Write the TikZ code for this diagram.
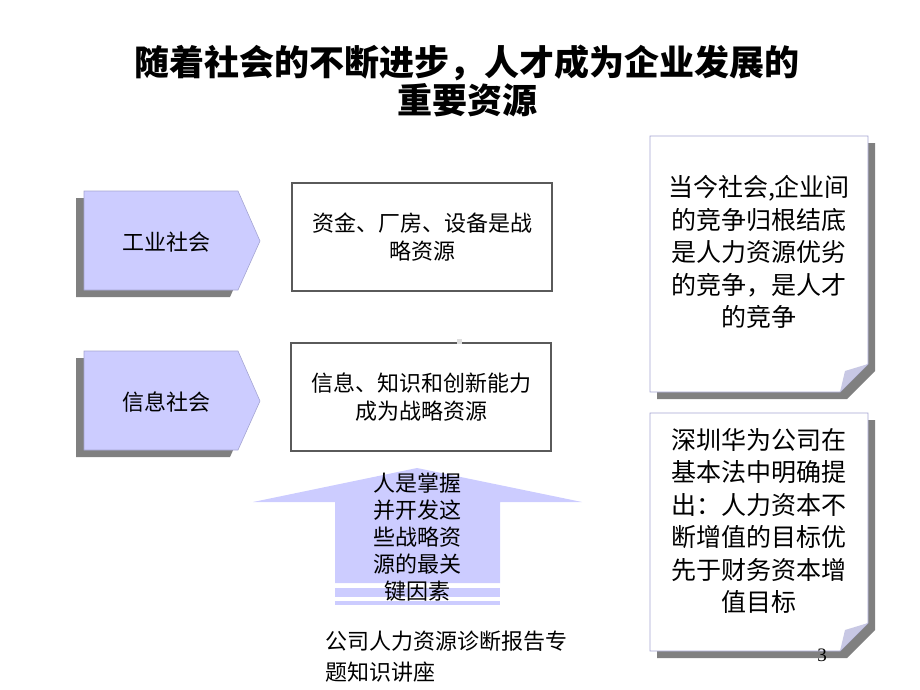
\documentclass[tikz,border=0pt]{standalone}
\usepackage{fontspec}
\setmainfont{Noto Sans CJK SC}
\newfontfamily\latinserif{Liberation Serif}
\usetikzlibrary{positioning}
\definecolor{lavender}{RGB}{204,204,255}
\definecolor{lavedge}{RGB}{165,165,210}
\definecolor{shadowgray}{RGB}{128,128,128}
\definecolor{foldgray}{RGB}{200,200,228}
\definecolor{boxedge}{RGB}{90,90,90}
\definecolor{tickgray}{RGB}{222,222,222}

\begin{document}
\begin{tikzpicture}[x=1pt, y=-1pt,
    plate/.style={fill=lavender, draw=lavedge, line width=0.6pt},
    paper/.style={fill=white, draw=lavedge, line width=0.8pt},
    shade/.style={fill=shadowgray},
    txt/.style={align=center, inner sep=0pt, font=\fontsize{22}{28}\selectfont},
    note/.style={align=center, inner sep=0pt, font=\fontsize{25}{32.5}\selectfont},
    res/.style={draw=boxedge, line width=1.2pt, fill=white, minimum width=260pt,
                minimum height=108pt, align=center, font=\fontsize{22}{28}\selectfont}
]
\useasboundingbox (0,0) rectangle (920,690);

% title
\node[align=center, font=\bfseries\fontsize{35}{38}\selectfont] (title) at (467,81)
    {随着社会的不断进步，人才成为企业发展的\\重要资源};

% the two eras
\foreach \y in {0,160} {
  \fill[shade] (76,198+\y) -- (230,198+\y) -- (252,248+\y) -- (230,297+\y) -- (76,297+\y) -- cycle;
  \draw[plate] (84,191+\y) -- (238,191+\y) -- (260,241+\y) -- (238,290+\y) -- (84,290+\y) -- cycle;
}
\node[txt] (ind) at (166,242) {工业社会};
\node[txt] (inf) at (166,402) {信息社会};

\node[res] (cap) at (422,237) {资金、厂房、设备是战\\略资源};
\node[res] (know) at (421,397) {信息、知识和创新能力\\成为战略资源};
\fill[tickgray] (457,339) rectangle (462,344);

% upward arrow
\fill[lavender] (417,468) -- (582,502) -- (500,502) -- (500,583) -- (335,583)
    -- (335,502) -- (253,502) -- cycle;
\fill[lavender] (335,588) rectangle (500,597);
\fill[lavender] (335,601) rectangle (500,605);
\node[txt, font=\fontsize{22}{27}\selectfont] (key) at (417,537)
    {人是掌握\\并开发这\\些战略资\\源的最关\\键因素};

% notes on the right
\foreach \t/\b in {136/392, 413/651} {
  \fill[shade] (657,\t+7) -- (875,\t+7) -- (875,\b-21) -- (847,\b+7) -- (657,\b+7) -- cycle;
  \draw[paper] (650,\t) -- (868,\t) -- (868,\b-28) -- (840,\b) -- (650,\b) -- cycle;
  \fill[foldgray] (840,\b) -- (845,\b-21) -- (868,\b-28) -- cycle;
}
\node[note] (rivalry) at (759,252)
    {当今社会,企业间\\的竞争归根结底\\是人力资源优劣\\的竞争，是人才\\的竞争};
\node[note] (huawei) at (759,521)
    {深圳华为公司在\\基本法中明确提\\出：人力资本不\\断增值的目标优\\先于财务资本增\\值目标};

% footer
\node[font=\latinserif\fontsize{19}{19}\selectfont] (pnum) at (822,655) {3};
\node[anchor=west, align=left, inner sep=0pt, font=\fontsize{22}{31}\selectfont] (foot) at (325,657)
    {公司人力资源诊断报告专\\题知识讲座};
\end{tikzpicture}
\end{document}
